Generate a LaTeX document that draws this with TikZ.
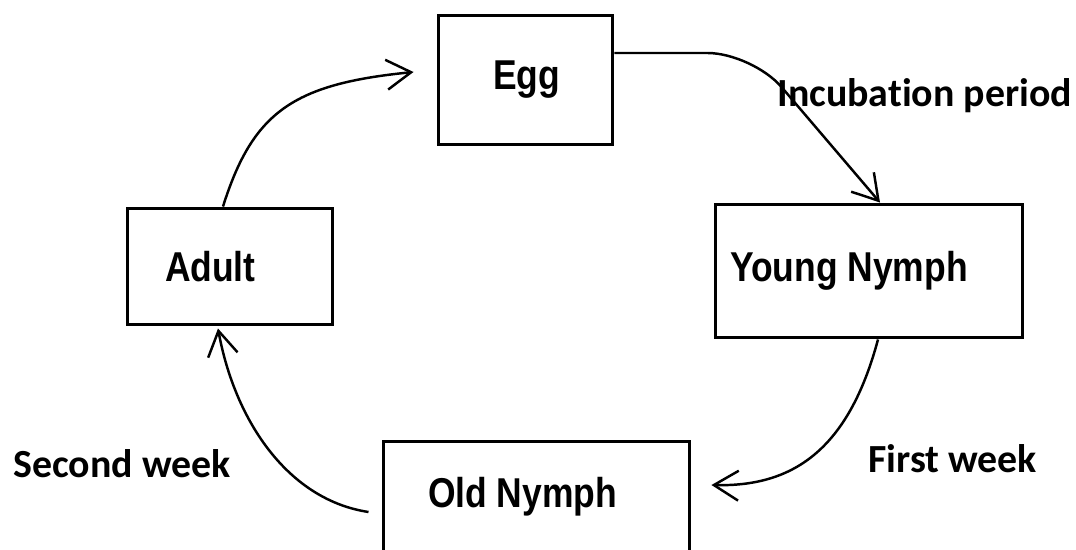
\documentclass[tikz,border=0pt]{standalone}
\usepackage{fontspec}
\usetikzlibrary{positioning,arrows.meta,calc}
\newfontfamily\stagefont[FakeStretch=0.85]{Liberation Sans}
\newfontfamily\notefont[Ligatures=NoCommon]{Carlito}

\begin{document}
\begin{tikzpicture}[x=0.02cm,y=-0.02cm,
    stage/.style={draw,line width=1.7pt,inner ysep=0pt,align=flush left,
      font=\stagefont\bfseries\fontsize{23.75}{28}\selectfont},
    note/.style={anchor=base west,inner sep=0pt,
      font=\notefont\bfseries\fontsize{22.7}{27}\selectfont},
    flow/.style={line width=1.4pt,-{Straight Barb[length=14pt,width=17pt]}}]
  \useasboundingbox (0,0) rectangle (1076,550);
  \clip (0,0) rectangle (1076,550);
  \fill[white] (0,0) rectangle (1076,550);

  % the four stages (text width + inner xsep = box width)
  \node[stage,text width=1.3cm,inner xsep=1.1cm,minimum height=2.6cm] (egg) at (525.5,80) {Egg};
  \node[stage,text width=5.56cm,inner xsep=0.3cm,minimum height=2.68cm] (young) at (869,271) {Young Nymph};
  \node[stage,text width=4.34cm,inner xsep=0.9cm,minimum height=2.24cm] (old) at (536.5,497) {Old Nymph};
  \node[stage,text width=2.6cm,inner xsep=0.76cm,minimum height=2.34cm] (adult) at (230,266.5) {Adult};

  % durations
  \node[note] (incub) at (777,107) {Incubation period};
  \node[note] (week1) at (868,473) {First week};
  \node[note] (week2) at (13,478) {Second week};

  % egg -> young nymph: flat run, then a rounded bend down
  \draw[flow,rounded corners=0.9cm] ($(egg.east)+(0,-27)$) -- ($(egg.east)+(138,-27)$)
    -- ($(young.north)+(11,0)$);
  % young -> old
  \draw[flow] ($(young.south)+(9,0)$) .. controls +(-30,112) and +(80,2) .. ($(old.east)+(20,-12)$);
  % old -> adult
  \draw[flow] ($(old.west)+(-13,15)$) .. controls +(-80,-12) and +(17,93) .. ($(adult.south)+(-12,2)$);
  % adult -> egg
  \draw[flow] ($(adult.north)+(-7,0)$) .. controls +(30,-95) and +(-120,12) .. ($(egg.west)+(-23,-8)$);
\end{tikzpicture}
\end{document}
